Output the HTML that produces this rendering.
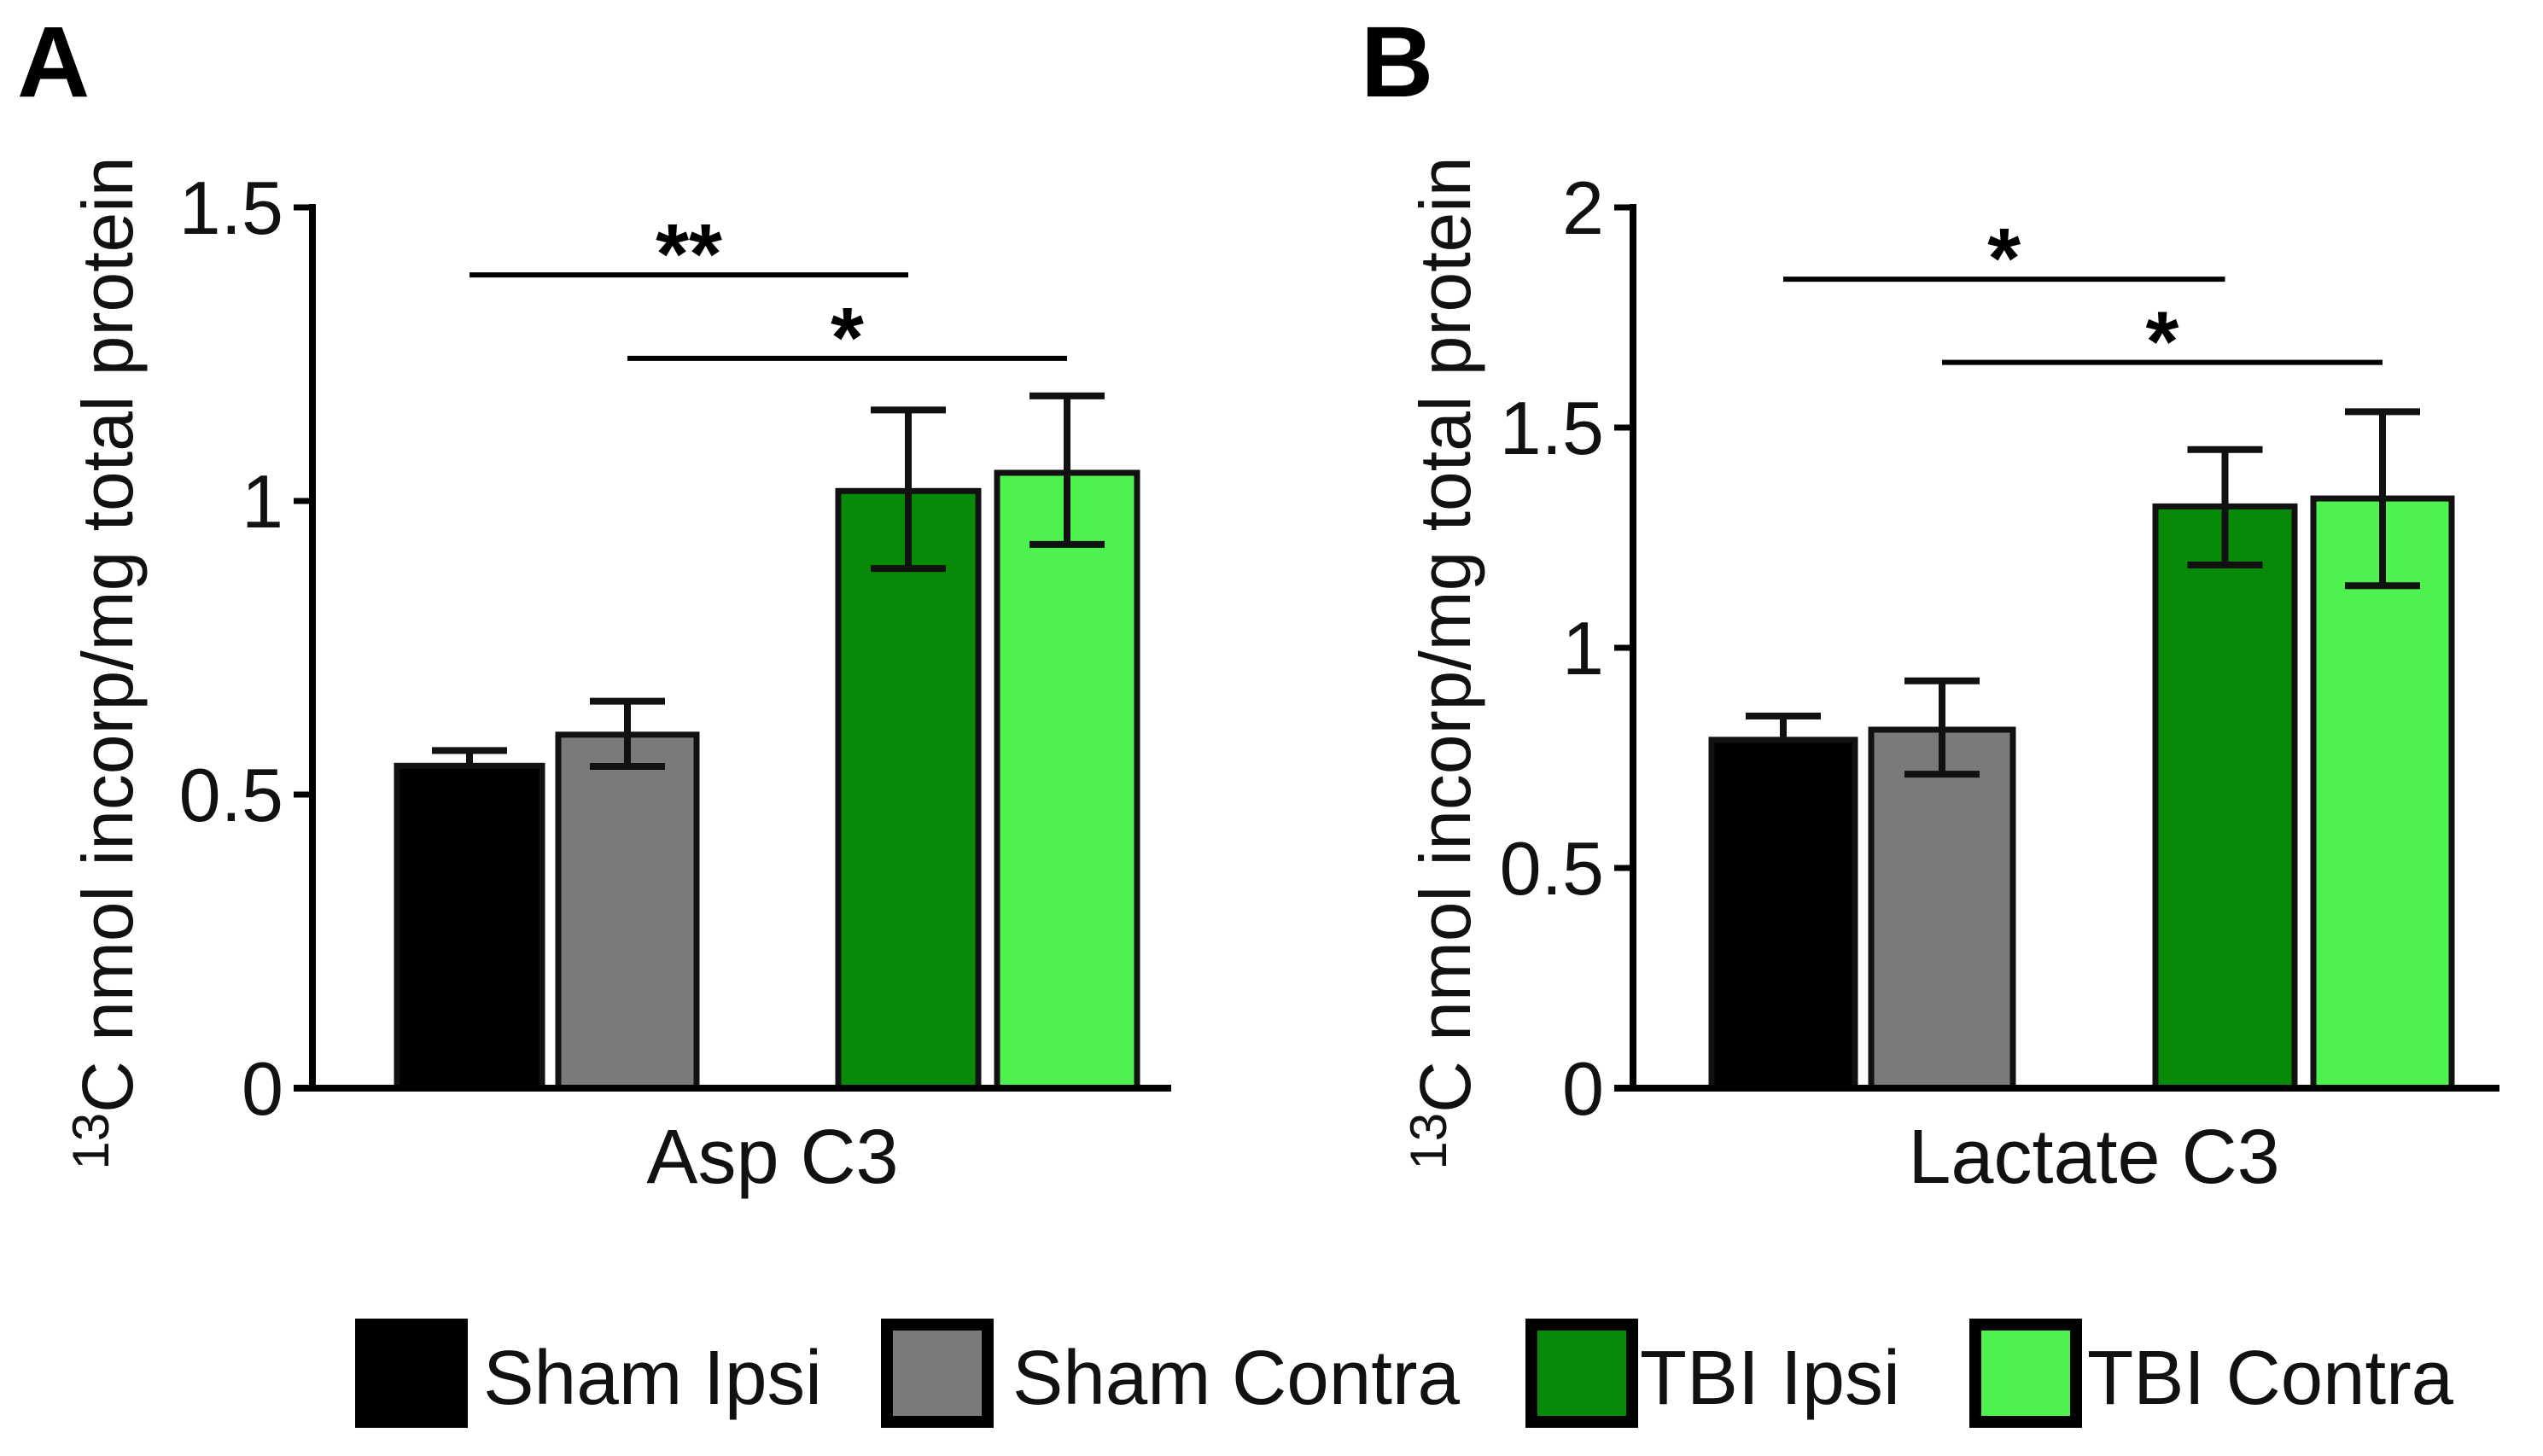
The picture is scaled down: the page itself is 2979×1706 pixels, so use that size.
<!DOCTYPE html>
<html><head><meta charset="utf-8"><style>
html,body{margin:0;padding:0;background:#fff}
svg{display:block;font-family:"Liberation Sans",Arial,sans-serif}
</style></head><body>
<svg id="chart" width="2979" height="1706" viewBox="0 0 2979 1706" xmlns="http://www.w3.org/2000/svg">
<g id="root"></g>
</svg>
<script>
const groups = ["Sham Ipsi","Sham Contra","TBI Ipsi","TBI Contra"];
const colors = ["#000000","#7a7a7a","#078a07","#4ef24e"];
const aspMeans = [0.549,0.602,1.017,1.048];
const aspErrHi = [0.575,0.659,1.155,1.179];
const aspErrLo = [0.549,0.548,0.885,0.926];
const lacMeans = [0.791,0.814,1.321,1.339];
const lacErrHi = [0.845,0.925,1.450,1.536];
const lacErrLo = [0.791,0.713,1.188,1.141];
const aspTicks = [0,0.5,1,1.5];
const aspTickLabels = ["0","0.5","1","1.5"];
const lacTicks = [0,0.5,1,1.5,2];
const lacTickLabels = ["0","0.5","1","1.5","2"];
const aspSig = [{from:0,to:2,y:1.385,label:"**"},{from:1,to:3,y:1.243,label:"*"}];
const lacSig = [{from:0,to:2,y:1.837,label:"*"},{from:1,to:3,y:1.648,label:"*"}];

const NS="http://www.w3.org/2000/svg";
const root=document.getElementById('root');
function mk(tag,attrs,parent){const e=document.createElementNS(NS,tag);for(const k in attrs)e.setAttribute(k,attrs[k]);(parent||root).appendChild(e);return e;}

function panel(cfg){
  const g=mk('g',{});
  
  
  const y0=1275,yTop=243;
  const ys=v=>y0-(v/cfg.max)*(y0-yTop);
  cfg.means.forEach((m,i)=>{
    const [x1,x2]=cfg.barX[i];
    const r=mk('rect',{x:x1,y:ys(m),width:x2-x1,height:y0-ys(m),fill:colors[i],stroke:'#111',"stroke-width":7},g);
    
    
    const cx=(x1+x2)/2;
    const eb=mk('g',{stroke:'#111',"stroke-width":8},g);
    
    
    mk('line',{x1:cx,x2:cx,y1:ys(cfg.hi[i]),y2:ys(cfg.lo[i])},eb);
    mk('line',{x1:cx-44,x2:cx+44,y1:ys(cfg.hi[i]),y2:ys(cfg.hi[i])},eb);
    if(cfg.lo[i]<m-0.001) mk('line',{x1:cx-44,x2:cx+44,y1:ys(cfg.lo[i]),y2:ys(cfg.lo[i])},eb);
  });
  const ax=mk('line',{x1:cfg.axX,x2:cfg.axX,y1:yTop-4,y2:y0+4,stroke:'#000',"stroke-width":8},g);
  
  const xa=mk('line',{x1:cfg.axX-22,x2:cfg.xEnd,y1:y0,y2:y0,stroke:'#000',"stroke-width":8},g);
  
  cfg.ticks.forEach((t,i)=>{
    mk('line',{x1:cfg.axX-22,x2:cfg.axX,y1:ys(t),y2:ys(t),stroke:'#000',"stroke-width":7},g);
    const tl=mk('text',{x:cfg.axX-34,y:ys(t)+31,"text-anchor":"end","font-size":88,fill:'#111'},g);
    tl.textContent=cfg.tickLabels[i];
    
  });
  cfg.sig.forEach(s=>{
    const xa1=(cfg.barX[s.from][0]+cfg.barX[s.from][1])/2, xa2=(cfg.barX[s.to][0]+cfg.barX[s.to][1])/2;
    const l=mk('line',{x1:xa1,x2:xa2,y1:ys(s.y),y2:ys(s.y),stroke:'#000',"stroke-width":6},g);
    
    const st=mk('text',{x:(xa1+xa2)/2,y:ys(s.y)+10,"text-anchor":"middle","font-size":100,"font-weight":"bold"},g);
    st.textContent=s.label;
    
  });
  const xl=mk('text',{x:cfg.xLabelX,y:1386,"text-anchor":"middle","font-size":90,fill:'#111'},g);
  xl.textContent=cfg.xLabel;
  
  const yl=mk('text',{x:0,y:0,"text-anchor":"middle","font-size":84,fill:'#111',transform:`translate(${cfg.yLabelX},777) rotate(-90)`},g);
  yl.innerHTML='<tspan font-size="60" dy="-28">13</tspan><tspan dy="28">C nmol incorp/mg total protein</tspan>';
  
  const pl=mk('text',{x:cfg.letterX,y:113,"font-size":118,"font-weight":"bold"},g);
  pl.textContent=cfg.letter;
  
}
panel({name:'panel-a-asp-c3',max:1.5,means:aspMeans,hi:aspErrHi,lo:aspErrLo,ticks:aspTicks,tickLabels:aspTickLabels,sig:aspSig,
  barX:[[465,635],[654,816],[982,1146],[1168,1332]],axX:366,xEnd:1372,xLabel:'Asp C3',xLabelX:905,yLabelX:155,letter:'A',letterX:20});
panel({name:'panel-b-lactate-c3',max:2,means:lacMeans,hi:lacErrHi,lo:lacErrLo,ticks:lacTicks,tickLabels:lacTickLabels,sig:lacSig,
  barX:[[2005,2173],[2192,2358],[2525,2688],[2710,2872]],axX:1913,xEnd:2928,xLabel:'Lactate C3',xLabelX:2453,yLabelX:1722,letter:'B',letterX:1594});
const legBox=[415,1031,1786,2306];
const legText=[[566,397],[1186,524],[1921,305],[2445,429]];
const lg=mk('g',{});

groups.forEach((n,i)=>{
  const e=mk('g',{},lg);
  
  
  mk('rect',{x:legBox[i]+8,y:1552,width:118,height:114,fill:colors[i],stroke:'#000',"stroke-width":14},e);
  const t=mk('text',{x:legText[i][0],y:1645,"font-size":90,textLength:legText[i][1],lengthAdjust:'spacingAndGlyphs',fill:'#111'},e);
  t.textContent=n;
});
</script>
</body></html>
